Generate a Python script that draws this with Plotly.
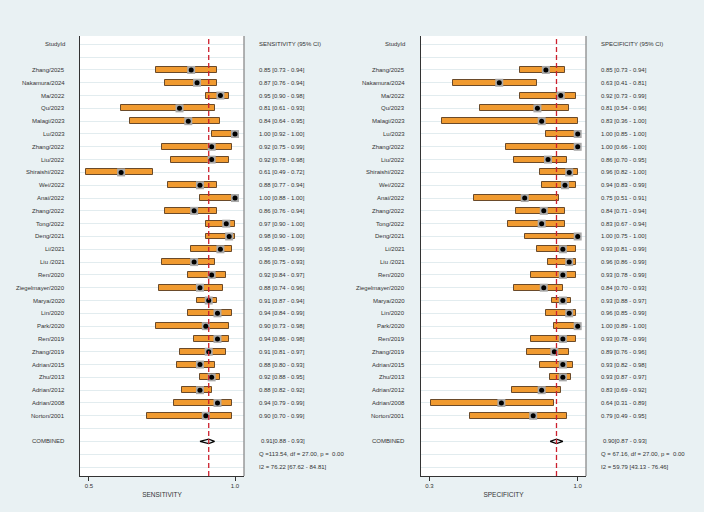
import plotly.graph_objects as go

studies = ["Zhang/2025", "Nakamura/2024", "Ma/2022", "Qu/2023", "Malagi/2023", "Lu/2023",
           "Zhang/2022", "Liu/2022", "Shiraishi/2022", "Wei/2022", "Anai/2022", "Zhang/2022",
           "Tong/2022", "Deng/2021", "Li/2021", "Liu /2021", "Ren/2020", "Ziegelmayer/2020",
           "Marya/2020", "Lin/2020", "Park/2020", "Ren/2019", "Zhang/2019", "Adrian/2015",
           "Zhu/2013", "Adrian/2012", "Adrian/2008", "Norton/2001"]

sens = [0.85, 0.87, 0.95, 0.81, 0.84, 1.00, 0.92, 0.92, 0.61, 0.88, 1.00, 0.86, 0.97, 0.98,
        0.95, 0.86, 0.92, 0.88, 0.91, 0.94, 0.90, 0.94, 0.91, 0.88, 0.92, 0.88, 0.94, 0.90]
sens_lo = [0.73, 0.76, 0.90, 0.61, 0.64, 0.92, 0.75, 0.78, 0.49, 0.77, 0.88, 0.76, 0.90, 0.90,
           0.85, 0.75, 0.84, 0.74, 0.87, 0.84, 0.73, 0.86, 0.81, 0.80, 0.88, 0.82, 0.79, 0.70]
sens_hi = [0.94, 0.94, 0.98, 0.93, 0.95, 1.00, 0.99, 0.98, 0.72, 0.94, 1.00, 0.94, 1.00, 1.00,
           0.99, 0.93, 0.97, 0.96, 0.94, 0.99, 0.98, 0.98, 0.97, 0.93, 0.95, 0.92, 0.99, 0.99]

spec = [0.85, 0.63, 0.92, 0.81, 0.83, 1.00, 1.00, 0.86, 0.96, 0.94, 0.75, 0.84, 0.83, 1.00,
        0.93, 0.96, 0.93, 0.84, 0.93, 0.96, 1.00, 0.93, 0.89, 0.93, 0.93, 0.83, 0.64, 0.79]
spec_lo = [0.73, 0.41, 0.73, 0.54, 0.36, 0.85, 0.66, 0.70, 0.82, 0.83, 0.51, 0.71, 0.67, 0.75,
           0.81, 0.86, 0.78, 0.70, 0.88, 0.85, 0.89, 0.78, 0.76, 0.82, 0.87, 0.69, 0.31, 0.49]
spec_hi = [0.94, 0.81, 0.99, 0.96, 1.00, 1.00, 1.00, 0.95, 1.00, 0.99, 0.91, 0.94, 0.94, 1.00,
           0.99, 0.99, 0.99, 0.93, 0.97, 0.99, 1.00, 0.99, 0.96, 0.98, 0.97, 0.92, 0.89, 0.95]

sens_comb = [0.91, 0.88, 0.93]
spec_comb = [0.90, 0.87, 0.93]
sens_q = "Q =113.54, df = 27.00, p =  0.00"
sens_i2 = "I2 = 76.22 [67.62 - 84.81]"
spec_q = "Q = 67.16, df = 27.00, p =  0.00"
spec_i2 = "I2 = 59.79 [43.13 - 76.46]"

W, H = 704, 512
BG = "#e9f1f3"
ORANGE = "#f09a30"
EDGE = "#6a4a2a"
TXT = "#333333"
FONT = "Liberation Sans, Arial, sans-serif"

rows = list(range(2, 2 + len(studies)))
comb_row = rows[-1] + 2
q_row = comb_row + 1
i2_row = comb_row + 2

def px(x):
    return x / W

panels = [
    dict(xa="x", ya="y", est=sens, lo=sens_lo, hi=sens_hi, comb=sens_comb, q=sens_q, i2=sens_i2,
         head="SENSITIVITY (95% CI)", lab_x=67, txt_x=256.5),
    dict(xa="x2", ya="y2", est=spec, lo=spec_lo, hi=spec_hi, comb=spec_comb, q=spec_q, i2=spec_i2,
         head="SPECIFICITY (95% CI)", lab_x=407, txt_x=599),
]

fig = go.Figure()
annotations = []
shapes = []

for p in panels:
    xa, ya = p["xa"], p["ya"]
    fig.add_trace(go.Bar(
        orientation="h", y=rows, base=p["lo"],
        x=[h - l for h, l in zip(p["hi"], p["lo"])],
        width=0.46, marker=dict(color=ORANGE, line=dict(color=EDGE, width=1)),
        xaxis=xa, yaxis=ya, showlegend=False, hoverinfo="skip"))
    fig.add_trace(go.Scatter(
        x=p["est"], y=rows, mode="markers",
        marker=dict(symbol="square", size=8, color="#a9a9a9", line=dict(width=0)),
        xaxis=xa, yaxis=ya, showlegend=False, hoverinfo="skip"))
    fig.add_trace(go.Scatter(
        x=p["est"], y=rows, mode="markers",
        marker=dict(symbol="circle", size=5, color="black", line=dict(width=0)),
        xaxis=xa, yaxis=ya, showlegend=False, hoverinfo="skip"))
    e, l, h = p["comb"]
    fig.add_trace(go.Scatter(
        x=[l, e, h, e, l], y=[comb_row, comb_row - 0.17, comb_row, comb_row + 0.17, comb_row],
        mode="lines", line=dict(color="black", width=1.2),
        xaxis=xa, yaxis=ya, showlegend=False, hoverinfo="skip"))
    # pooled estimate line
    shapes.append(dict(type="line", xref=xa, yref=ya + " domain", x0=e, x1=e, y0=0, y1=1,
                       line=dict(color="#cc1f2d", width=1.3, dash="5px,3px")))
    # study labels
    annotations.append(dict(x=px(p["lab_x"]), y=0, xref="paper", yref=ya, text="StudyId",
                            xanchor="right", showarrow=False))
    annotations.append(dict(x=px(p["txt_x"]), y=0, xref="paper", yref=ya, text=p["head"],
                            xanchor="left", showarrow=False))
    for r, s, v, lo_, hi_ in zip(rows, studies, p["est"], p["lo"], p["hi"]):
        annotations.append(dict(x=px(p["lab_x"]), y=r, xref="paper", yref=ya, text=s,
                                xanchor="right", showarrow=False))
        annotations.append(dict(x=px(p["txt_x"]), y=r, xref="paper", yref=ya,
                                text=f"{v:.2f} [{lo_:.2f} - {hi_:.2f}]",
                                xanchor="left", showarrow=False))
    annotations.append(dict(x=px(p["lab_x"]), y=comb_row, xref="paper", yref=ya, text="COMBINED",
                            xanchor="right", showarrow=False))
    annotations.append(dict(x=px(p["txt_x"] + 2), y=comb_row, xref="paper", yref=ya,
                            text=f"{e:.2f}[{l:.2f} - {h:.2f}]", xanchor="left", showarrow=False))
    annotations.append(dict(x=px(p["txt_x"]), y=q_row, xref="paper", yref=ya, text=p["q"],
                            xanchor="left", showarrow=False))
    annotations.append(dict(x=px(p["txt_x"]), y=i2_row, xref="paper", yref=ya, text=p["i2"],
                            xanchor="left", showarrow=False))

# right frame lines (grey)
for xa in ["x", "x2"]:
    shapes.append(dict(type="line", xref=xa + " domain", yref="paper", x0=1, x1=1,
                       y0=1 - 476 / H, y1=1 - 36 / H, line=dict(color="#8a8a8a", width=1.3)))

ydom = [1 - 476 / H, 1 - 36 / H]
yax = dict(range=[33.7, -0.65], domain=ydom, showticklabels=False, ticks="",
           showgrid=True, gridcolor="#e2ecef", gridwidth=1, tickmode="linear", tick0=0, dtick=1,
           zeroline=False, showline=True, linecolor="#333333", linewidth=1.3)

xcommon = dict(showgrid=False, zeroline=False, showline=True, linecolor="#333333", linewidth=1.3,
               ticks="outside", ticklen=4, tickcolor="#333333", tickwidth=1,
               tickfont=dict(size=6, color=TXT, family=FONT),
               title=dict(font=dict(size=6.5, color=TXT, family=FONT), standoff=4))

fig.update_layout(
    width=W, height=H, margin=dict(l=0, r=0, t=0, b=0),
    paper_bgcolor=BG, plot_bgcolor="white",
    font=dict(family=FONT, size=6, color=TXT),
    barmode="overlay", bargap=0,
    xaxis=dict(domain=[80 / W, 244 / W], range=[0.4692, 1.0308], anchor="y",
               tickvals=[0.5, 1.0], ticktext=["0.5", "1.0"],
               title_text="SENSITIVITY", **xcommon),
    yaxis=dict(anchor="x", **yax),
    xaxis2=dict(domain=[421 / W, 586 / W], range=[0.2608, 1.0392], anchor="y2",
                tickvals=[0.3, 1.0], ticktext=["0.3", "1.0"],
                title_text="SPECIFICITY", **xcommon),
    yaxis2=dict(anchor="x2", **yax),
    annotations=annotations, shapes=shapes,
)

fig.write_html("out.html")
